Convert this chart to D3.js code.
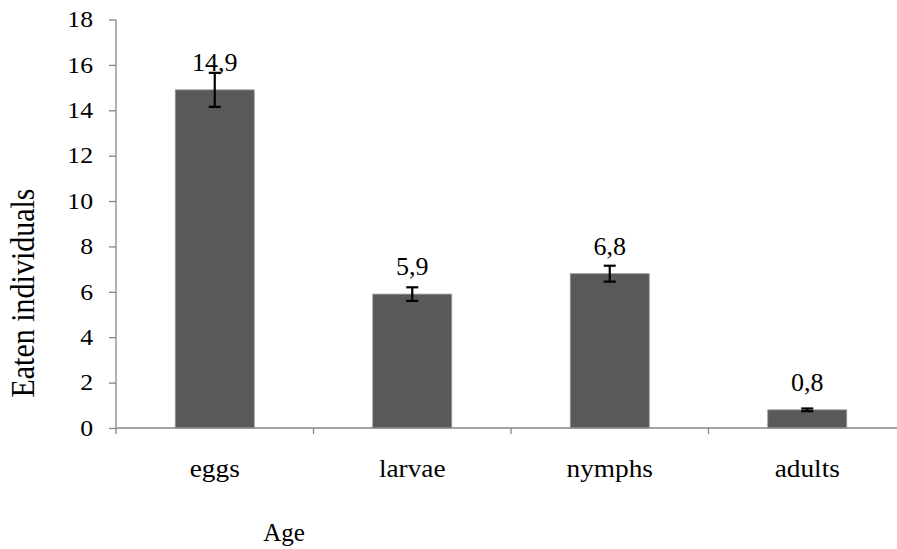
<!DOCTYPE html>
<html><head><meta charset="utf-8">
<script src="https://cdn.jsdelivr.net/npm/d3@7/dist/d3.min.js"></script>
<style>html,body{margin:0;padding:0;background:#fff;}svg{display:block;}</style>
</head><body>
<svg id="chart" width="897" height="549"></svg>
<script>
const categories = ["eggs", "larvae", "nymphs", "adults"];
const values = [14.9, 5.9, 6.8, 0.8];
const errors = [0.75, 0.3, 0.35, 0.06];
const yTicks = [0, 2, 4, 6, 8, 10, 12, 14, 16, 18];
const yTitle = "Eaten individuals";
const xTitle = "Age";

const svg = d3.select("#chart");
const FONT = "Liberation Serif, Times New Roman, serif";
const axisColor = "#868686";

const x = d3.scaleBand().domain(categories).range([116, 906]).paddingInner(0.6).paddingOuter(0.3);
const y = d3.scaleLinear().domain([0, 18]).range([428, 19.5]);

function stretchedText(g, tx, ty, str, size, sx, anchor, rot) {
  return g.append("text")
    .attr("transform", `translate(${tx},${ty}) scale(${sx},1)` + (rot ? ` rotate(${rot})` : ""))
    .attr("font-family", FONT).attr("font-size", size + "px").attr("fill", "#000")
    .attr("text-anchor", anchor).text(str);
}

// bars
svg.append("g").selectAll("rect").data(values).join("rect")
  .attr("x", (d, i) => x(categories[i]))
  .attr("width", x.bandwidth())
  .attr("y", d => y(d))
  .attr("height", d => y(0) - y(d))
  .attr("fill", "#595959")
  .attr("stroke", "#9a9a9a").attr("stroke-width", 0.8);

// y axis
const yAxis = svg.append("g").attr("transform", "translate(116,0)")
  .call(d3.axisLeft(y).tickValues(yTicks).tickSize(7).tickFormat(""));
yAxis.select(".domain").attr("stroke", axisColor).attr("stroke-width", 1.3).attr("d", `M0,${y(18)}V${y(0)}`);
yAxis.selectAll(".tick line").attr("stroke", axisColor).attr("stroke-width", 1.3);
const yl = svg.append("g");
yTicks.forEach(v => stretchedText(yl, 93, y(v) + 7.8, String(v), 23, 1.12, "end"));

// x axis
const bounds = categories.map(c => x(c) - x.step() * 0.3).concat([x(categories[3]) + x.bandwidth() + x.step() * 0.3]);
const xg = svg.append("g");
xg.append("line").attr("x1", 116).attr("x2", 906).attr("y1", y(0)).attr("y2", y(0))
  .attr("stroke", axisColor).attr("stroke-width", 1.3);
xg.selectAll("line.tk").data(bounds).join("line").attr("class", "tk")
  .attr("x1", d => d).attr("x2", d => d).attr("y1", y(0)).attr("y2", y(0) + 6)
  .attr("stroke", axisColor).attr("stroke-width", 1.3);
categories.forEach(c => stretchedText(xg, x(c) + x.bandwidth() / 2, 477, c, 26, 1.05, "middle"));

// error bars
const eg = svg.append("g").attr("stroke", "#000").attr("stroke-width", 2.2);
values.forEach((v, i) => {
  const cx = x(categories[i]) + x.bandwidth() / 2;
  const e = errors[i];
  eg.append("line").attr("x1", cx).attr("x2", cx).attr("y1", y(v + e)).attr("y2", y(v - e));
  eg.append("line").attr("x1", cx - 6).attr("x2", cx + 6).attr("y1", y(v + e)).attr("y2", y(v + e));
  eg.append("line").attr("x1", cx - 6).attr("x2", cx + 6).attr("y1", y(v - e)).attr("y2", y(v - e));
});

// value labels
const vl = svg.append("g");
values.forEach((v, i) => {
  const cx = x(categories[i]) + x.bandwidth() / 2;
  stretchedText(vl, cx, y(v) - 19, String(v).replace(".", ","), 26, 1.0, "middle");
});

// titles
stretchedText(svg, 284, 541, xTitle, 25, 1.0, "middle");
stretchedText(svg, 34, 293, yTitle, 30, 1.15, "middle", -90);
</script>
</body></html>
